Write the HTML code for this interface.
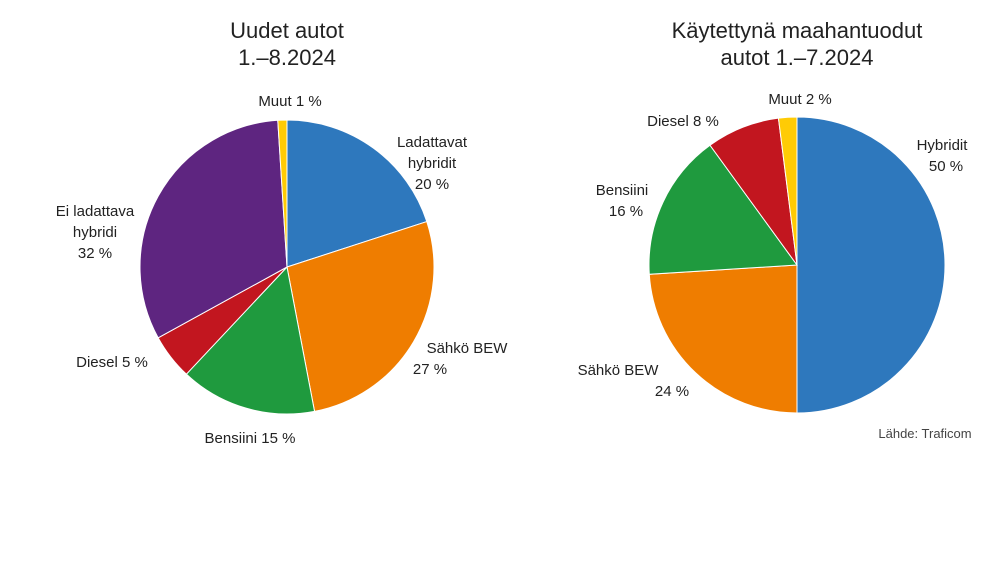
<!DOCTYPE html>
<html><head><meta charset="utf-8"><style>
body{margin:0;background:#fff;}
svg{display:block;font-family:"Liberation Sans",sans-serif;}
</style></head><body>
<svg id="c" width="1000" height="565" viewBox="0 0 1000 565">
<rect width="1000" height="565" fill="#fff"/>
<text x="287" y="38" font-size="22" text-anchor="middle" fill="#222">Uudet autot</text>
<text x="287" y="65" font-size="22" text-anchor="middle" fill="#222">1.–8.2024</text>
<text x="797" y="38" font-size="22" text-anchor="middle" fill="#222">Käytettynä maahantuodut</text>
<text x="797" y="65" font-size="22" text-anchor="middle" fill="#222">autot 1.–7.2024</text>
<g id="left"></g>
<g id="right"></g>
<g font-size="15" fill="#222">
<text x="290" y="106" text-anchor="middle">Muut 1 %</text>
<text x="432" y="147" text-anchor="middle"><tspan x="432">Ladattavat</tspan><tspan x="432" dy="21">hybridit</tspan><tspan x="432" dy="21">20 %</tspan></text>
<text x="95" y="216" text-anchor="middle"><tspan x="95">Ei ladattava</tspan><tspan x="95" dy="21">hybridi</tspan><tspan x="95" dy="21">32 %</tspan></text>
<text x="467" y="353" text-anchor="middle"><tspan x="467">Sähkö BEW</tspan><tspan x="430" dy="21">27 %</tspan></text>
<text x="112" y="367" text-anchor="middle">Diesel 5 %</text>
<text x="250" y="443" text-anchor="middle">Bensiini 15 %</text>
<text x="800" y="104" text-anchor="middle">Muut 2 %</text>
<text x="683" y="126" text-anchor="middle">Diesel 8 %</text>
<text x="942" y="150" text-anchor="middle"><tspan x="942">Hybridit</tspan><tspan x="946" dy="21">50 %</tspan></text>
<text x="622" y="195" text-anchor="middle"><tspan x="622">Bensiini</tspan><tspan x="626" dy="21">16 %</tspan></text>
<text x="618" y="375" text-anchor="middle"><tspan x="618">Sähkö BEW</tspan><tspan x="672" dy="21">24 %</tspan></text>
<text x="925" y="438" font-size="13" text-anchor="middle" fill="#444">Lähde: Traficom</text>
</g>
</svg>
<script>
const leftCategories=["Ladattavat hybridit","Sähkö BEW","Bensiini","Diesel","Ei ladattava hybridi","Muut"];
const leftValues=[20,27,15,5,32,1];
const rightCategories=["Hybridit","Sähkö BEW","Bensiini","Diesel","Muut"];
const rightValues=[50,24,16,8,2];
const colorMap={"Ladattavat hybridit":"#2e78bd","Hybridit":"#2e78bd","Sähkö BEW":"#ef7d00","Bensiini":"#1f9a3e","Diesel":"#c2161f","Ei ladattava hybridi":"#5e2580","Muut":"#ffcb05"};
function drawPie(gid,cats,vals,cx,cy,r){
  const g=document.getElementById(gid);
  const total=vals.reduce((a,b)=>a+b,0);
  let a0=0;
  vals.forEach((v,i)=>{
    const a1=a0+v/total*2*Math.PI;
    const x0=cx+r*Math.sin(a0),y0=cy-r*Math.cos(a0);
    const x1=cx+r*Math.sin(a1),y1=cy-r*Math.cos(a1);
    const large=(a1-a0)>Math.PI?1:0;
    const p=document.createElementNS("http://www.w3.org/2000/svg","path");
    p.setAttribute("d",`M${cx},${cy}L${x0},${y0}A${r},${r} 0 ${large} 1 ${x1},${y1}Z`);
    p.setAttribute("fill",colorMap[cats[i]]);
    p.setAttribute("stroke","#fff");
    p.setAttribute("stroke-width","1");
    
    
    g.appendChild(p);
    a0=a1;
  });
}
drawPie("left",leftCategories,leftValues,287,267,147);
drawPie("right",rightCategories,rightValues,797,265,148);
</script>
</body></html>
